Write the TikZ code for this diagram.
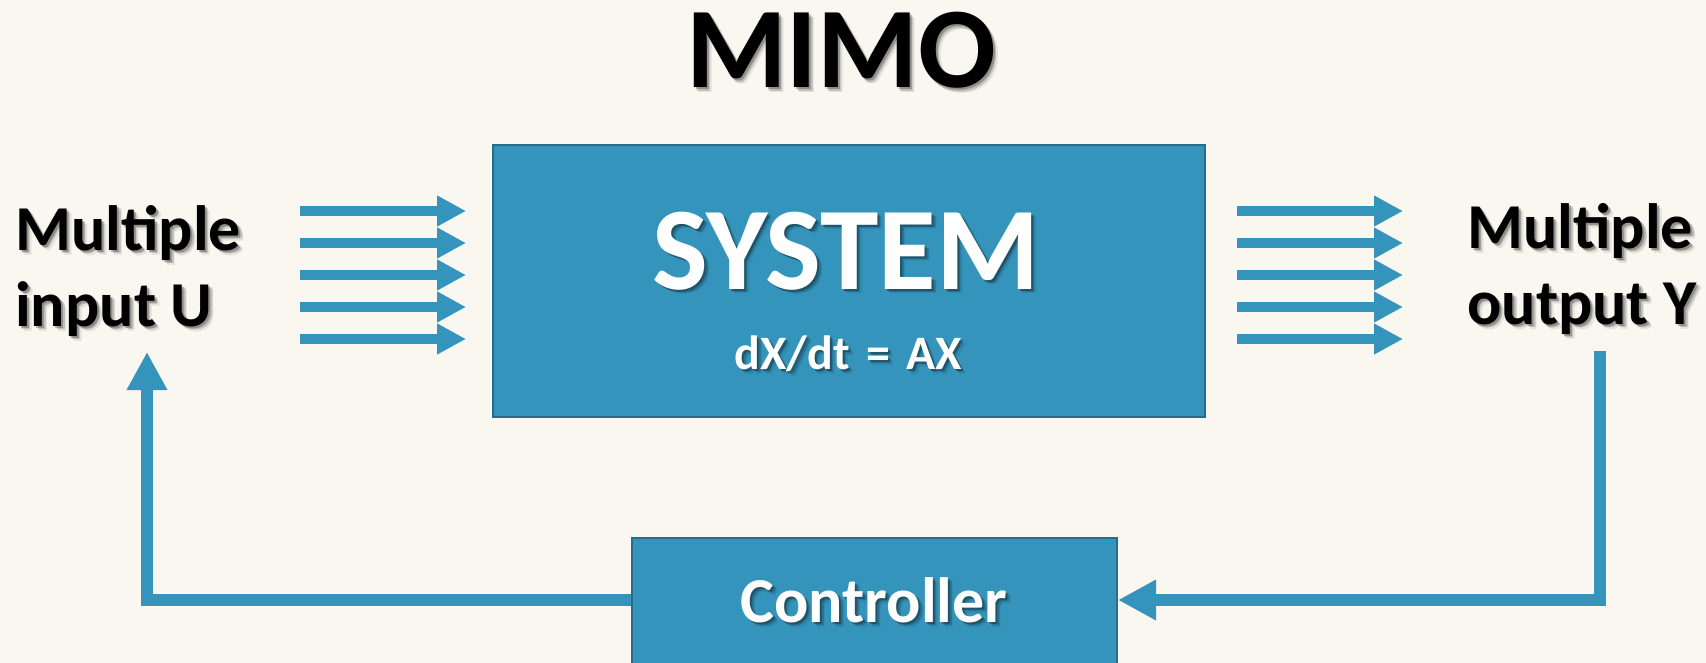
\documentclass[tikz,border=0pt]{standalone}
\usepackage{fontspec}
\setmainfont{Carlito}
\usetikzlibrary{arrows.meta,calc}

\definecolor{paper}{RGB}{250,247,240}
\definecolor{sysblue}{RGB}{53,148,188}
\definecolor{sysedge}{RGB}{38,110,142}

% text with a soft drop shadow: name, position, style, text
\newcommand\shadowtext[4]{%
  \foreach \dx/\dy/\op in {2/2/0.25,3.5/3.5/0.16,5/5/0.08}{%
    \node[#3, text=black, text opacity=\op] at ($(#2)+(\dx,\dy)$) {#4};
  }%
  \node[#3] (#1) at (#2) {#4};%
}

\tikzset{
  blockbox/.style={draw=sysedge, line width=2pt, fill=sysblue, inner sep=0pt},
  flow/.style={draw=sysblue, line width=10pt, -{Triangle[length=29pt,width=29pt]}},
  loopline/.style={draw=sysblue, line width=12pt, line join=miter,
    -{Triangle[length=38pt,width=38pt]}},
  title/.style={font=\bfseries\fontsize{115}{120}\selectfont, text=black, inner sep=0pt, anchor=base},
  bigwhite/.style={font=\bfseries\fontsize{118}{124}\selectfont, text=white, inner sep=0pt, anchor=base},
  eqwhite/.style={font=\bfseries\fontsize{48}{54}\selectfont, text=white, inner sep=0pt, anchor=base},
  ctrlwhite/.style={font=\bfseries\fontsize{64}{70}\selectfont, text=white, inner sep=0pt, anchor=base},
  sidelabel/.style={font=\bfseries\fontsize{64}{76}\selectfont, text=black, inner sep=0pt,
    align=left, anchor=north west},
}

\begin{document}
\begin{tikzpicture}[x=1pt,y=-1pt]
  \fill[paper] (0,0) rectangle (1706,663);
  \useasboundingbox (0,0) rectangle (1706,663);

  % title
  \shadowtext{mimo}{841,88}{title}{MIMO}

  % blocks
  \node[blockbox, minimum width=712pt, minimum height=272pt] (system) at (849,281) {};
  \node[blockbox, anchor=north, minimum width=485pt, minimum height=170pt] (ctrl) at (874.5,537) {};

  \shadowtext{systitle}{846,289}{bigwhite}{SYSTEM}
  \shadowtext{syseq}{848,369}{eqwhite}{dX/dt\hspace{0.12em} =\hspace{0.1em} AX}
  \shadowtext{ctrltext}{874,622}{ctrlwhite}{Controller}

  % side labels
  \shadowtext{inlabel}{15,205}{sidelabel}{Multiple\\input U}
  \shadowtext{outlabel}{1467,203}{sidelabel}{Multiple\\output Y}

  % parallel input and output signals
  \foreach \i/\y in {1/211,2/243,3/275,4/307,5/339}{
    \coordinate (in\i s) at (300,\y);
    \coordinate (in\i e) at (466,\y);
    \coordinate (out\i s) at (1237,\y);
    \coordinate (out\i e) at (1403,\y);
    \draw[flow] (in\i s) -- (in\i e);
    \draw[flow] (out\i s) -- (out\i e);
  }

  % feedback loop through the controller
  \coordinate (ytap) at (1600,351);
  \coordinate (ycorner) at (1600,600);
  \coordinate (ucorner) at (147,600);
  \coordinate (utip) at (147,352);
  \draw[loopline] (ytap) -- (ycorner) -- (ycorner -| ctrl.east);
  \draw[loopline] (ucorner -| ctrl.west) -- (ucorner) -- (utip);
\end{tikzpicture}
\end{document}
